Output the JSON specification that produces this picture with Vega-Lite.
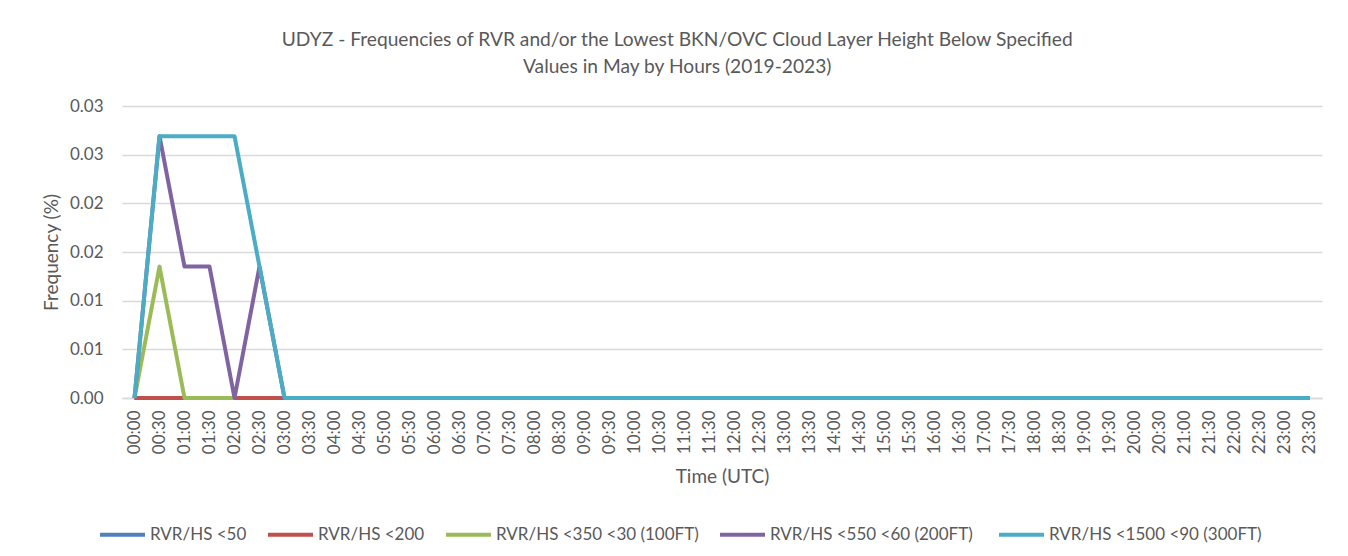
{
"$schema":"https://vega.github.io/schema/vega-lite/v6.json",
"autosize":{"type":"none"},
"width":1200,"height":292,
"padding":{"left":122,"top":106,"right":26,"bottom":158},
"background":"white",
"title":{"text":["UDYZ - Frequencies of RVR and/or the Lowest BKN/OVC Cloud Layer Height Below Specified","Values in May by Hours (2019-2023)"],"font":"Lato","fontSize":19.2,"fontWeight":"normal","color":"#595959","anchor":"middle","frame":"bounds","offset":20,"lineHeight":27,"dx":-5},
"data":{"values":[
{"t":"00:00","s":"RVR/HS <50","v":0},{"t":"00:30","s":"RVR/HS <50","v":0},{"t":"01:00","s":"RVR/HS <50","v":0},{"t":"01:30","s":"RVR/HS <50","v":0},{"t":"02:00","s":"RVR/HS <50","v":0},{"t":"02:30","s":"RVR/HS <50","v":0},{"t":"03:00","s":"RVR/HS <50","v":0},{"t":"03:30","s":"RVR/HS <50","v":0},{"t":"04:00","s":"RVR/HS <50","v":0},{"t":"04:30","s":"RVR/HS <50","v":0},{"t":"05:00","s":"RVR/HS <50","v":0},{"t":"05:30","s":"RVR/HS <50","v":0},{"t":"06:00","s":"RVR/HS <50","v":0},{"t":"06:30","s":"RVR/HS <50","v":0},{"t":"07:00","s":"RVR/HS <50","v":0},{"t":"07:30","s":"RVR/HS <50","v":0},{"t":"08:00","s":"RVR/HS <50","v":0},{"t":"08:30","s":"RVR/HS <50","v":0},{"t":"09:00","s":"RVR/HS <50","v":0},{"t":"09:30","s":"RVR/HS <50","v":0},{"t":"10:00","s":"RVR/HS <50","v":0},{"t":"10:30","s":"RVR/HS <50","v":0},{"t":"11:00","s":"RVR/HS <50","v":0},{"t":"11:30","s":"RVR/HS <50","v":0},{"t":"12:00","s":"RVR/HS <50","v":0},{"t":"12:30","s":"RVR/HS <50","v":0},{"t":"13:00","s":"RVR/HS <50","v":0},{"t":"13:30","s":"RVR/HS <50","v":0},{"t":"14:00","s":"RVR/HS <50","v":0},{"t":"14:30","s":"RVR/HS <50","v":0},{"t":"15:00","s":"RVR/HS <50","v":0},{"t":"15:30","s":"RVR/HS <50","v":0},{"t":"16:00","s":"RVR/HS <50","v":0},{"t":"16:30","s":"RVR/HS <50","v":0},{"t":"17:00","s":"RVR/HS <50","v":0},{"t":"17:30","s":"RVR/HS <50","v":0},{"t":"18:00","s":"RVR/HS <50","v":0},{"t":"18:30","s":"RVR/HS <50","v":0},{"t":"19:00","s":"RVR/HS <50","v":0},{"t":"19:30","s":"RVR/HS <50","v":0},{"t":"20:00","s":"RVR/HS <50","v":0},{"t":"20:30","s":"RVR/HS <50","v":0},{"t":"21:00","s":"RVR/HS <50","v":0},{"t":"21:30","s":"RVR/HS <50","v":0},{"t":"22:00","s":"RVR/HS <50","v":0},{"t":"22:30","s":"RVR/HS <50","v":0},{"t":"23:00","s":"RVR/HS <50","v":0},{"t":"23:30","s":"RVR/HS <50","v":0},
{"t":"00:00","s":"RVR/HS <200","v":0},{"t":"00:30","s":"RVR/HS <200","v":0},{"t":"01:00","s":"RVR/HS <200","v":0},{"t":"01:30","s":"RVR/HS <200","v":0},{"t":"02:00","s":"RVR/HS <200","v":0},{"t":"02:30","s":"RVR/HS <200","v":0},{"t":"03:00","s":"RVR/HS <200","v":0},{"t":"03:30","s":"RVR/HS <200","v":0},{"t":"04:00","s":"RVR/HS <200","v":0},{"t":"04:30","s":"RVR/HS <200","v":0},{"t":"05:00","s":"RVR/HS <200","v":0},{"t":"05:30","s":"RVR/HS <200","v":0},{"t":"06:00","s":"RVR/HS <200","v":0},{"t":"06:30","s":"RVR/HS <200","v":0},{"t":"07:00","s":"RVR/HS <200","v":0},{"t":"07:30","s":"RVR/HS <200","v":0},{"t":"08:00","s":"RVR/HS <200","v":0},{"t":"08:30","s":"RVR/HS <200","v":0},{"t":"09:00","s":"RVR/HS <200","v":0},{"t":"09:30","s":"RVR/HS <200","v":0},{"t":"10:00","s":"RVR/HS <200","v":0},{"t":"10:30","s":"RVR/HS <200","v":0},{"t":"11:00","s":"RVR/HS <200","v":0},{"t":"11:30","s":"RVR/HS <200","v":0},{"t":"12:00","s":"RVR/HS <200","v":0},{"t":"12:30","s":"RVR/HS <200","v":0},{"t":"13:00","s":"RVR/HS <200","v":0},{"t":"13:30","s":"RVR/HS <200","v":0},{"t":"14:00","s":"RVR/HS <200","v":0},{"t":"14:30","s":"RVR/HS <200","v":0},{"t":"15:00","s":"RVR/HS <200","v":0},{"t":"15:30","s":"RVR/HS <200","v":0},{"t":"16:00","s":"RVR/HS <200","v":0},{"t":"16:30","s":"RVR/HS <200","v":0},{"t":"17:00","s":"RVR/HS <200","v":0},{"t":"17:30","s":"RVR/HS <200","v":0},{"t":"18:00","s":"RVR/HS <200","v":0},{"t":"18:30","s":"RVR/HS <200","v":0},{"t":"19:00","s":"RVR/HS <200","v":0},{"t":"19:30","s":"RVR/HS <200","v":0},{"t":"20:00","s":"RVR/HS <200","v":0},{"t":"20:30","s":"RVR/HS <200","v":0},{"t":"21:00","s":"RVR/HS <200","v":0},{"t":"21:30","s":"RVR/HS <200","v":0},{"t":"22:00","s":"RVR/HS <200","v":0},{"t":"22:30","s":"RVR/HS <200","v":0},{"t":"23:00","s":"RVR/HS <200","v":0},{"t":"23:30","s":"RVR/HS <200","v":0},
{"t":"00:00","s":"RVR/HS <350 <30 (100FT)","v":0},{"t":"00:30","s":"RVR/HS <350 <30 (100FT)","v":0.0135},{"t":"01:00","s":"RVR/HS <350 <30 (100FT)","v":0},{"t":"01:30","s":"RVR/HS <350 <30 (100FT)","v":0},{"t":"02:00","s":"RVR/HS <350 <30 (100FT)","v":0},{"t":"02:30","s":"RVR/HS <350 <30 (100FT)","v":null},{"t":"03:00","s":"RVR/HS <350 <30 (100FT)","v":0},{"t":"03:30","s":"RVR/HS <350 <30 (100FT)","v":0},{"t":"04:00","s":"RVR/HS <350 <30 (100FT)","v":0},{"t":"04:30","s":"RVR/HS <350 <30 (100FT)","v":0},{"t":"05:00","s":"RVR/HS <350 <30 (100FT)","v":0},{"t":"05:30","s":"RVR/HS <350 <30 (100FT)","v":0},{"t":"06:00","s":"RVR/HS <350 <30 (100FT)","v":0},{"t":"06:30","s":"RVR/HS <350 <30 (100FT)","v":0},{"t":"07:00","s":"RVR/HS <350 <30 (100FT)","v":0},{"t":"07:30","s":"RVR/HS <350 <30 (100FT)","v":0},{"t":"08:00","s":"RVR/HS <350 <30 (100FT)","v":0},{"t":"08:30","s":"RVR/HS <350 <30 (100FT)","v":0},{"t":"09:00","s":"RVR/HS <350 <30 (100FT)","v":0},{"t":"09:30","s":"RVR/HS <350 <30 (100FT)","v":0},{"t":"10:00","s":"RVR/HS <350 <30 (100FT)","v":0},{"t":"10:30","s":"RVR/HS <350 <30 (100FT)","v":0},{"t":"11:00","s":"RVR/HS <350 <30 (100FT)","v":0},{"t":"11:30","s":"RVR/HS <350 <30 (100FT)","v":0},{"t":"12:00","s":"RVR/HS <350 <30 (100FT)","v":0},{"t":"12:30","s":"RVR/HS <350 <30 (100FT)","v":0},{"t":"13:00","s":"RVR/HS <350 <30 (100FT)","v":0},{"t":"13:30","s":"RVR/HS <350 <30 (100FT)","v":0},{"t":"14:00","s":"RVR/HS <350 <30 (100FT)","v":0},{"t":"14:30","s":"RVR/HS <350 <30 (100FT)","v":0},{"t":"15:00","s":"RVR/HS <350 <30 (100FT)","v":0},{"t":"15:30","s":"RVR/HS <350 <30 (100FT)","v":0},{"t":"16:00","s":"RVR/HS <350 <30 (100FT)","v":0},{"t":"16:30","s":"RVR/HS <350 <30 (100FT)","v":0},{"t":"17:00","s":"RVR/HS <350 <30 (100FT)","v":0},{"t":"17:30","s":"RVR/HS <350 <30 (100FT)","v":0},{"t":"18:00","s":"RVR/HS <350 <30 (100FT)","v":0},{"t":"18:30","s":"RVR/HS <350 <30 (100FT)","v":0},{"t":"19:00","s":"RVR/HS <350 <30 (100FT)","v":0},{"t":"19:30","s":"RVR/HS <350 <30 (100FT)","v":0},{"t":"20:00","s":"RVR/HS <350 <30 (100FT)","v":0},{"t":"20:30","s":"RVR/HS <350 <30 (100FT)","v":0},{"t":"21:00","s":"RVR/HS <350 <30 (100FT)","v":0},{"t":"21:30","s":"RVR/HS <350 <30 (100FT)","v":0},{"t":"22:00","s":"RVR/HS <350 <30 (100FT)","v":0},{"t":"22:30","s":"RVR/HS <350 <30 (100FT)","v":0},{"t":"23:00","s":"RVR/HS <350 <30 (100FT)","v":0},{"t":"23:30","s":"RVR/HS <350 <30 (100FT)","v":0},
{"t":"00:00","s":"RVR/HS <550 <60  (200FT)","v":0},{"t":"00:30","s":"RVR/HS <550 <60  (200FT)","v":0.0269},{"t":"01:00","s":"RVR/HS <550 <60  (200FT)","v":0.0135},{"t":"01:30","s":"RVR/HS <550 <60  (200FT)","v":0.0135},{"t":"02:00","s":"RVR/HS <550 <60  (200FT)","v":0},{"t":"02:30","s":"RVR/HS <550 <60  (200FT)","v":0.0135},{"t":"03:00","s":"RVR/HS <550 <60  (200FT)","v":0},{"t":"03:30","s":"RVR/HS <550 <60  (200FT)","v":0},{"t":"04:00","s":"RVR/HS <550 <60  (200FT)","v":0},{"t":"04:30","s":"RVR/HS <550 <60  (200FT)","v":0},{"t":"05:00","s":"RVR/HS <550 <60  (200FT)","v":0},{"t":"05:30","s":"RVR/HS <550 <60  (200FT)","v":0},{"t":"06:00","s":"RVR/HS <550 <60  (200FT)","v":0},{"t":"06:30","s":"RVR/HS <550 <60  (200FT)","v":0},{"t":"07:00","s":"RVR/HS <550 <60  (200FT)","v":0},{"t":"07:30","s":"RVR/HS <550 <60  (200FT)","v":0},{"t":"08:00","s":"RVR/HS <550 <60  (200FT)","v":0},{"t":"08:30","s":"RVR/HS <550 <60  (200FT)","v":0},{"t":"09:00","s":"RVR/HS <550 <60  (200FT)","v":0},{"t":"09:30","s":"RVR/HS <550 <60  (200FT)","v":0},{"t":"10:00","s":"RVR/HS <550 <60  (200FT)","v":0},{"t":"10:30","s":"RVR/HS <550 <60  (200FT)","v":0},{"t":"11:00","s":"RVR/HS <550 <60  (200FT)","v":0},{"t":"11:30","s":"RVR/HS <550 <60  (200FT)","v":0},{"t":"12:00","s":"RVR/HS <550 <60  (200FT)","v":0},{"t":"12:30","s":"RVR/HS <550 <60  (200FT)","v":0},{"t":"13:00","s":"RVR/HS <550 <60  (200FT)","v":0},{"t":"13:30","s":"RVR/HS <550 <60  (200FT)","v":0},{"t":"14:00","s":"RVR/HS <550 <60  (200FT)","v":0},{"t":"14:30","s":"RVR/HS <550 <60  (200FT)","v":0},{"t":"15:00","s":"RVR/HS <550 <60  (200FT)","v":0},{"t":"15:30","s":"RVR/HS <550 <60  (200FT)","v":0},{"t":"16:00","s":"RVR/HS <550 <60  (200FT)","v":0},{"t":"16:30","s":"RVR/HS <550 <60  (200FT)","v":0},{"t":"17:00","s":"RVR/HS <550 <60  (200FT)","v":0},{"t":"17:30","s":"RVR/HS <550 <60  (200FT)","v":0},{"t":"18:00","s":"RVR/HS <550 <60  (200FT)","v":0},{"t":"18:30","s":"RVR/HS <550 <60  (200FT)","v":0},{"t":"19:00","s":"RVR/HS <550 <60  (200FT)","v":0},{"t":"19:30","s":"RVR/HS <550 <60  (200FT)","v":0},{"t":"20:00","s":"RVR/HS <550 <60  (200FT)","v":0},{"t":"20:30","s":"RVR/HS <550 <60  (200FT)","v":0},{"t":"21:00","s":"RVR/HS <550 <60  (200FT)","v":0},{"t":"21:30","s":"RVR/HS <550 <60  (200FT)","v":0},{"t":"22:00","s":"RVR/HS <550 <60  (200FT)","v":0},{"t":"22:30","s":"RVR/HS <550 <60  (200FT)","v":0},{"t":"23:00","s":"RVR/HS <550 <60  (200FT)","v":0},{"t":"23:30","s":"RVR/HS <550 <60  (200FT)","v":0},
{"t":"00:00","s":"RVR/HS <1500 <90 (300FT)","v":0},{"t":"00:30","s":"RVR/HS <1500 <90 (300FT)","v":0.0269},{"t":"01:00","s":"RVR/HS <1500 <90 (300FT)","v":0.0269},{"t":"01:30","s":"RVR/HS <1500 <90 (300FT)","v":0.0269},{"t":"02:00","s":"RVR/HS <1500 <90 (300FT)","v":0.0269},{"t":"02:30","s":"RVR/HS <1500 <90 (300FT)","v":0.0135},{"t":"03:00","s":"RVR/HS <1500 <90 (300FT)","v":0},{"t":"03:30","s":"RVR/HS <1500 <90 (300FT)","v":0},{"t":"04:00","s":"RVR/HS <1500 <90 (300FT)","v":0},{"t":"04:30","s":"RVR/HS <1500 <90 (300FT)","v":0},{"t":"05:00","s":"RVR/HS <1500 <90 (300FT)","v":0},{"t":"05:30","s":"RVR/HS <1500 <90 (300FT)","v":0},{"t":"06:00","s":"RVR/HS <1500 <90 (300FT)","v":0},{"t":"06:30","s":"RVR/HS <1500 <90 (300FT)","v":0},{"t":"07:00","s":"RVR/HS <1500 <90 (300FT)","v":0},{"t":"07:30","s":"RVR/HS <1500 <90 (300FT)","v":0},{"t":"08:00","s":"RVR/HS <1500 <90 (300FT)","v":0},{"t":"08:30","s":"RVR/HS <1500 <90 (300FT)","v":0},{"t":"09:00","s":"RVR/HS <1500 <90 (300FT)","v":0},{"t":"09:30","s":"RVR/HS <1500 <90 (300FT)","v":0},{"t":"10:00","s":"RVR/HS <1500 <90 (300FT)","v":0},{"t":"10:30","s":"RVR/HS <1500 <90 (300FT)","v":0},{"t":"11:00","s":"RVR/HS <1500 <90 (300FT)","v":0},{"t":"11:30","s":"RVR/HS <1500 <90 (300FT)","v":0},{"t":"12:00","s":"RVR/HS <1500 <90 (300FT)","v":0},{"t":"12:30","s":"RVR/HS <1500 <90 (300FT)","v":0},{"t":"13:00","s":"RVR/HS <1500 <90 (300FT)","v":0},{"t":"13:30","s":"RVR/HS <1500 <90 (300FT)","v":0},{"t":"14:00","s":"RVR/HS <1500 <90 (300FT)","v":0},{"t":"14:30","s":"RVR/HS <1500 <90 (300FT)","v":0},{"t":"15:00","s":"RVR/HS <1500 <90 (300FT)","v":0},{"t":"15:30","s":"RVR/HS <1500 <90 (300FT)","v":0},{"t":"16:00","s":"RVR/HS <1500 <90 (300FT)","v":0},{"t":"16:30","s":"RVR/HS <1500 <90 (300FT)","v":0},{"t":"17:00","s":"RVR/HS <1500 <90 (300FT)","v":0},{"t":"17:30","s":"RVR/HS <1500 <90 (300FT)","v":0},{"t":"18:00","s":"RVR/HS <1500 <90 (300FT)","v":0},{"t":"18:30","s":"RVR/HS <1500 <90 (300FT)","v":0},{"t":"19:00","s":"RVR/HS <1500 <90 (300FT)","v":0},{"t":"19:30","s":"RVR/HS <1500 <90 (300FT)","v":0},{"t":"20:00","s":"RVR/HS <1500 <90 (300FT)","v":0},{"t":"20:30","s":"RVR/HS <1500 <90 (300FT)","v":0},{"t":"21:00","s":"RVR/HS <1500 <90 (300FT)","v":0},{"t":"21:30","s":"RVR/HS <1500 <90 (300FT)","v":0},{"t":"22:00","s":"RVR/HS <1500 <90 (300FT)","v":0},{"t":"22:30","s":"RVR/HS <1500 <90 (300FT)","v":0},{"t":"23:00","s":"RVR/HS <1500 <90 (300FT)","v":0},{"t":"23:30","s":"RVR/HS <1500 <90 (300FT)","v":0}
]},
"mark":{"type":"line","strokeWidth":4,"strokeJoin":"round","strokeCap":"butt","invalid":"break-paths-show-domains"},
"encoding":{
"x":{"field":"t","type":"ordinal","sort":null,"scale":{"type":"point","padding":0.5},"axis":{"title":"Time (UTC)","labelAngle":-90,"labelAlign":"right","labelBaseline":"middle","ticks":false,"domain":true,"domainColor":"#d9d9d9","domainWidth":1.5,"grid":false,"labelPadding":12,"labelFont":"Lato","labelFontSize":17,"labelColor":"#595959","titleFont":"Lato","titleFontSize":19,"titleFontWeight":"normal","titleColor":"#595959","titlePadding":14}},
"y":{"field":"v","type":"quantitative","scale":{"domain":[0,0.03],"nice":false},"axis":{"title":"Frequency (%)","values":[0,0.005,0.01,0.015,0.02,0.025,0.03],"labelExpr":"format(datum.value+1e-9,'.2f')","ticks":false,"domain":false,"grid":true,"gridColor":"#d9d9d9","gridWidth":1.5,"labelPadding":19,"labelFont":"Lato","labelFontSize":17,"labelColor":"#595959","titleFont":"Lato","titleFontSize":19,"titleFontWeight":"normal","titleColor":"#595959","titlePadding":8}},
"color":{"field":"s","type":"nominal","sort":null,"scale":{"domain":["RVR/HS <50","RVR/HS <200","RVR/HS <350 <30 (100FT)","RVR/HS <550 <60  (200FT)","RVR/HS <1500 <90 (300FT)"],"range":["#4F81BD","#C0504D","#9BBB59","#8064A2","#4BACC6"]},"legend":{"orient":"none","legendX":-24,"legendY":404,"direction":"horizontal","title":null,"symbolType":"stroke","symbolStrokeWidth":4,"symbolSize":2025,"labelFont":"Lato","labelFontSize":17,"labelColor":"#595959","labelLimit":0,"columnPadding":13,"labelOffset":3}}
},
"config":{"view":{"stroke":null}}
}
